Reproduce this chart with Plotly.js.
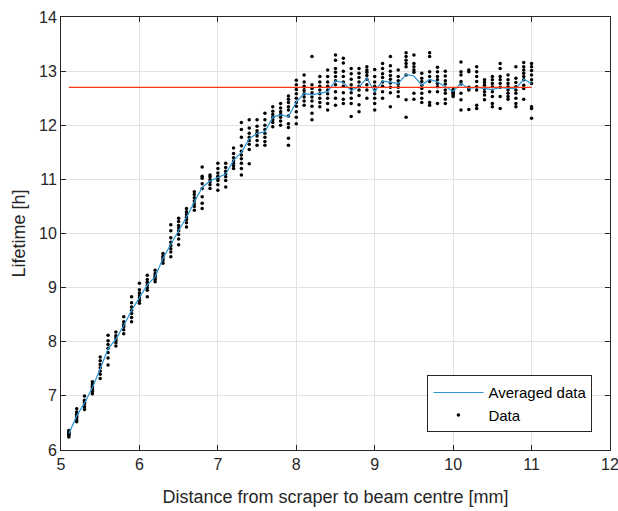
<!DOCTYPE html>
<html>
<head>
<meta charset="utf-8">
<script src="https://cdn.plot.ly/plotly-3.0.1.min.js"></script>
<style>
  html, body { margin: 0; padding: 0; background: #ffffff; }
  #chart { width: 618px; height: 511px; }
</style>
</head>
<body>
<div id="chart"></div>
<script>
// Scraper distance positions (mm)
const distances = [5.1, 5.2, 5.3, 5.4, 5.5, 5.6, 5.7, 5.8, 5.9, 6.0,
  6.1, 6.2, 6.3, 6.4, 6.5, 6.6, 6.7, 6.8, 6.9, 7.0,
  7.1, 7.2, 7.3, 7.4, 7.5, 7.6, 7.7, 7.8, 7.9, 8.0,
  8.1, 8.2, 8.3, 8.4, 8.5, 8.6, 8.7, 8.8, 8.9, 9.0,
  9.1, 9.2, 9.3, 9.4, 9.5, 9.6, 9.7, 9.8, 9.9, 10.0,
  10.1, 10.2, 10.3, 10.4, 10.5, 10.6, 10.7, 10.8, 10.9, 11.0];

// Measured lifetimes at each position (h)
const lifetimeData = [
  [6.24, 6.27, 6.29, 6.31, 6.33, 6.36],
  [6.52, 6.56, 6.6, 6.63, 6.66, 6.7, 6.76],
  [6.75, 6.8, 6.85, 6.88, 6.92, 7.0],
  [7.04, 7.08, 7.12, 7.15, 7.18, 7.22, 7.26],
  [7.32, 7.4, 7.46, 7.52, 7.58, 7.65, 7.72],
  [7.57, 7.7, 7.8, 7.88, 7.95, 8.02, 8.12],
  [7.92, 7.98, 8.03, 8.07, 8.11, 8.18],
  [8.15, 8.22, 8.28, 8.32, 8.37, 8.46],
  [8.37, 8.45, 8.52, 8.58, 8.64, 8.72, 8.83],
  [8.71, 8.76, 8.81, 8.85, 8.9, 8.96, 9.08],
  [8.83, 8.95, 9.0, 9.05, 9.1, 9.15, 9.23],
  [9.11, 9.15, 9.19, 9.22, 9.26, 9.32],
  [9.45, 9.5, 9.54, 9.58, 9.63],
  [9.57, 9.66, 9.72, 9.78, 9.84, 9.92, 10.05, 10.16],
  [9.79, 9.9, 9.98, 10.05, 10.1, 10.15, 10.22, 10.28],
  [10.12, 10.2, 10.26, 10.3, 10.35, 10.4, 10.46],
  [10.43, 10.5, 10.55, 10.6, 10.66, 10.72, 10.77],
  [10.46, 10.56, 10.68, 10.83, 10.92, 11.02, 11.06, 11.23],
  [10.83, 10.9, 10.95, 11.0, 11.05, 11.08],
  [10.8, 10.9, 10.98, 11.02, 11.06, 11.12, 11.2, 11.3],
  [10.86, 10.98, 11.05, 11.1, 11.15, 11.22, 11.3],
  [11.2, 11.25, 11.3, 11.34, 11.4, 11.48, 11.58],
  [11.08, 11.2, 11.3, 11.38, 11.45, 11.52, 11.62, 11.78, 11.92, 12.05],
  [11.29, 11.55, 11.65, 11.72, 11.78, 11.85, 11.95, 12.1],
  [11.63, 11.72, 11.8, 11.85, 11.9, 11.98, 12.1],
  [11.63, 11.7, 11.78, 11.85, 11.92, 12.0, 12.1, 12.22],
  [11.97, 12.05, 12.1, 12.15, 12.2, 12.26, 12.34],
  [12.0, 12.08, 12.15, 12.2, 12.25, 12.32, 12.4],
  [11.63, 11.76, 11.96, 12.03, 12.17, 12.28, 12.34, 12.42, 12.48, 12.54],
  [12.03, 12.15, 12.25, 12.35, 12.42, 12.5, 12.58, 12.66, 12.75, 12.83],
  [12.37, 12.45, 12.52, 12.58, 12.64, 12.7, 12.72, 12.8, 12.93],
  [12.1, 12.22, 12.35, 12.45, 12.52, 12.6, 12.68, 12.75, 13.27],
  [12.34, 12.42, 12.5, 12.58, 12.65, 12.72, 12.8, 12.9],
  [12.28, 12.4, 12.5, 12.58, 12.65, 12.72, 12.8, 12.9, 13.02],
  [12.37, 12.5, 12.62, 12.75, 12.82, 12.9, 12.98, 13.05, 13.2, 13.3],
  [12.4, 12.48, 12.6, 12.72, 12.8, 12.9, 13.0, 13.15, 13.24],
  [12.16, 12.4, 12.5, 12.6, 12.68, 12.75, 12.85, 12.95, 13.05],
  [12.25, 12.38, 12.55, 12.65, 12.72, 12.8, 12.88, 12.96, 13.05],
  [12.5, 12.65, 12.75, 12.85, 12.92, 12.98, 13.02, 13.08],
  [12.28, 12.4, 12.5, 12.58, 12.65, 12.72, 12.8, 12.9, 13.03],
  [12.5, 12.62, 12.72, 12.8, 12.88, 12.95, 13.05, 13.14],
  [12.34, 12.6, 12.7, 12.78, 12.85, 12.92, 13.0, 13.1, 13.27],
  [12.53, 12.62, 12.7, 12.76, 12.82, 12.9, 13.02],
  [12.15, 12.47, 12.93, 13.08, 13.14, 13.2, 13.27, 13.34],
  [12.48, 12.59, 12.98, 13.02, 13.08, 13.14, 13.3],
  [12.42, 12.5, 12.59, 12.68, 12.74, 12.81, 12.87, 12.96],
  [12.37, 12.42, 12.62, 12.81, 12.9, 12.99, 13.27, 13.34],
  [12.4, 12.62, 12.71, 12.77, 12.84, 12.9, 12.99, 13.07],
  [12.4, 12.48, 12.59, 12.65, 12.76, 12.82, 12.91, 13.0],
  [12.53, 12.56, 12.58, 12.6, 12.62, 12.64, 12.66],
  [12.28, 12.47, 12.59, 12.76, 12.81, 12.93, 12.99, 13.17],
  [12.29, 12.65, 12.68, 12.7, 12.99, 13.02],
  [12.31, 12.37, 12.65, 12.71, 12.81, 12.9, 12.99, 13.08],
  [12.47, 12.56, 12.62, 12.68, 12.74, 12.79, 12.84],
  [12.34, 12.4, 12.53, 12.62, 12.71, 12.77, 12.84, 12.9],
  [12.31, 12.53, 12.7, 12.77, 12.84, 12.9, 13.05, 13.14],
  [12.48, 12.53, 12.59, 12.65, 12.71, 12.77, 12.84, 12.93],
  [12.34, 12.4, 12.5, 12.59, 12.65, 12.71, 12.79, 12.87, 13.08],
  [12.48, 12.68, 12.74, 12.84, 12.9, 12.96, 13.02, 13.08, 13.16],
  [12.13, 12.31, 12.34, 12.77, 12.84, 12.93, 13.01, 13.08, 13.14]
];

// Averaged lifetime at each position (h)
const averagedLifetime = [6.3, 6.63, 6.87, 7.15, 7.5, 7.87, 8.05, 8.3, 8.58, 8.82,
  9.05, 9.2, 9.54, 9.8, 10.05, 10.3, 10.58, 10.85, 10.97, 11.03,
  11.1, 11.35, 11.5, 11.75, 11.85, 11.88, 12.15, 12.19, 12.16, 12.43,
  12.59, 12.56, 12.59, 12.62, 12.82, 12.79, 12.64, 12.71, 12.87, 12.62,
  12.82, 12.8, 12.77, 12.94, 12.91, 12.74, 12.85, 12.8, 12.72, 12.63,
  12.77, 12.68, 12.7, 12.68, 12.66, 12.7, 12.68, 12.68, 12.85, 12.77];

// Reference (saturation) lifetime level (h)
const referenceLevel = 12.7;

const xTickVals = [5, 6, 7, 8, 9, 10, 11, 12];
const yTickVals = [6, 7, 8, 9, 10, 11, 12, 13, 14];

const scatterX = [];
const scatterY = [];
distances.forEach((d, i) => {
  lifetimeData[i].forEach(v => { scatterX.push(d); scatterY.push(v); });
});

const FONT = 'Liberation Sans, Arial, Helvetica, sans-serif';
const TXT = '#262626';

const traces = [
  {
    x: scatterX, y: scatterY, type: 'scatter', mode: 'markers',
    name: 'Data', legendrank: 2,
    marker: { color: '#000000', size: 3.5 }
  },
  {
    x: distances, y: averagedLifetime, type: 'scatter', mode: 'lines',
    name: 'Averaged data', legendrank: 1,
    line: { color: '#2b95d4', width: 1.2 }
  },
  {
    x: [distances[0], distances[distances.length - 1]],
    y: [referenceLevel, referenceLevel],
    type: 'scatter', mode: 'lines', showlegend: false,
    line: { color: '#ff3514', width: 1.4 }
  }
];

const axisCommon = {
  showline: true, mirror: 'ticks', linecolor: TXT, linewidth: 1,
  ticks: 'inside', ticklen: 5, tickwidth: 1, tickcolor: TXT,
  showgrid: true, gridcolor: '#e1e1e1', gridwidth: 1,
  zeroline: false, ticklabeloverflow: 'allow',
  tickfont: { family: FONT, size: 16, color: TXT }
};

const layout = {
  width: 618, height: 511,
  margin: { l: 61, r: 8, t: 17, b: 61 },
  paper_bgcolor: '#ffffff', plot_bgcolor: '#ffffff',
  font: { family: FONT, color: TXT },
  xaxis: Object.assign({}, axisCommon, {
    range: [5, 12], tickvals: xTickVals, ticktext: xTickVals.map(String),
    title: { text: 'Distance from scraper to beam centre [mm]', font: { family: FONT, size: 18, color: TXT }, standoff: 18 }
  }),
  yaxis: Object.assign({}, axisCommon, {
    range: [6, 14], tickvals: yTickVals, ticktext: yTickVals.map(String),
    title: { text: 'Lifetime [h]', font: { family: FONT, size: 18, color: TXT }, standoff: 8 }
  }),
  legend: {
    x: 0.968, y: 0.041, xanchor: 'right', yanchor: 'bottom',
    bgcolor: '#ffffff', bordercolor: TXT, borderwidth: 1,
    font: { family: FONT, size: 15, color: '#000000' },
    itemwidth: 50, tracegroupgap: 0
  },
  showlegend: true
};

Plotly.newPlot('chart', traces, layout, { displayModeBar: false, staticPlot: true });
</script>
</body>
</html>
